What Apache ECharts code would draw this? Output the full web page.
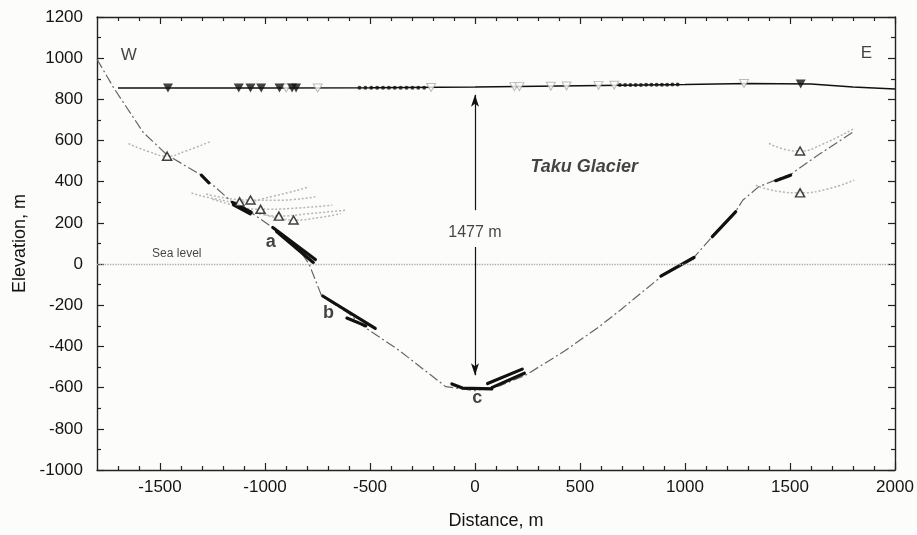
<!DOCTYPE html>
<html>
<head>
<meta charset="utf-8">
<script src="https://cdn.jsdelivr.net/npm/echarts@6/dist/echarts.min.js"></script>
<style>
  html, body { margin: 0; padding: 0; background: #fcfcfa; }
  #chart { width: 917px; height: 535px; }
</style>
</head>
<body>
<div id="chart"></div>
<script>
// tick values
const xMajor = [-1500, -1000, -500, 0, 500, 1000, 1500, 2000];
const xMinor = [-1700, -1600, -1400, -1300, -1200, -1100, -900, -800, -700, -600,
  -400, -300, -200, -100, 100, 200, 300, 400, 600, 700, 800, 900,
  1100, 1200, 1300, 1400, 1600, 1700, 1800, 1900];

// glacier surface
const surface = [[-1700, 855], [-1000, 855], [-500, 856], [0, 860], [500, 866],
  [1000, 872], [1300, 877], [1600, 875], [1800, 860], [2000, 850]];

// bed (dash-dot)
const bed = [[-1800, 995], [-1720, 855], [-1580, 640], [-1466, 530], [-1300, 430],
  [-1155, 300], [-1066, 250], [-960, 175], [-850, 90], [-790, 0], [-730, -155],
  [-600, -240], [-535, -300], [-360, -420], [-140, -595], [0, -615], [120, -590],
  [240, -540], [430, -420], [590, -305], [690, -225], [885, -62], [1045, 35],
  [1130, 133], [1240, 254], [1275, 310], [1350, 375], [1430, 408], [1510, 440],
  [1620, 520], [1805, 645]];

// thick reflector segments
const reflectors = [
  [[-1303, 432], [-1268, 395]],
  [[-1155, 300], [-1066, 252]],
  [[-1150, 288], [-1070, 244]],
  [[-963, 178], [-760, 22]],
  [[-945, 158], [-770, 8]],
  [[-725, -155], [-475, -312]],
  [[-610, -262], [-520, -300]],
  [[-110, -582], [-60, -602], [80, -606]],
  [[60, -580], [225, -510]],
  [[80, -600], [235, -530]],
  [[885, -58], [1043, 32]],
  [[1130, 133], [1241, 254]],
  [[1432, 405], [1503, 432]]
];

// dotted diffraction arcs
const arcs = [
  [[-1650, 585], [-1550, 545], [-1466, 524], [-1380, 548], [-1260, 595]],
  [[-1350, 345], [-1230, 315], [-1121, 302], [-960, 330], [-790, 375]],
  [[-1280, 340], [-1170, 318], [-1069, 311], [-940, 310], [-760, 327]],
  [[-1250, 315], [-1130, 282], [-1021, 266], [-880, 270], [-680, 286]],
  [[-1100, 265], [-934, 233], [-800, 244], [-614, 262]],
  [[-1000, 240], [-864, 214], [-740, 226], [-640, 245]],
  [[1400, 586], [1480, 556], [1548, 549], [1650, 580], [1806, 659]],
  [[1337, 383], [1450, 352], [1548, 346], [1680, 365], [1806, 408]]
];

// markers
const filledDown = [[-1462, 855], [-1125, 855], [-1069, 855], [-1018, 855],
  [-931, 855], [-871, 855], [-852, 855], [1551, 875]];
const openDown = [[-899, 855], [-749, 855], [-209, 858], [187, 862], [211, 862],
  [361, 864], [436, 865], [588, 868], [663, 869], [1281, 877]];
const dots = [[-550, 856], [-522, 856], [-494, 856], [-466, 856], [-438, 856],
  [-410, 856], [-382, 856], [-354, 856], [-326, 856], [-298, 856], [-270, 857],
  [-242, 857], [690, 870], [715, 870], [740, 870], [765, 870], [790, 870],
  [815, 871], [840, 871], [865, 871], [890, 871], [915, 871], [940, 872], [965, 872]];
const openUp = [[-1466, 524], [-1121, 302], [-1069, 311], [-1021, 266],
  [-934, 233], [-864, 214], [1548, 549], [1548, 346]];

// annotations
const arrowUp = [[0, 262], [0, 822]];
const arrowDown = [[0, 83], [0, -540]];
const notes = ['W', 'E', 'Sea level', 'Taku Glacier', '1477 m', 'a', 'b', 'c'];
const notePos = [[-1649, 1015], [1864, 1022], [-1420, 52], [520, 471], [0, 155],
  [-973, 107], [-698, -238], [11, -650]];

const txt = '#141414';
const font = 'Liberation Sans';
const bg = '#fcfcfa';

const chart = echarts.init(document.getElementById('chart'));

const noteStyles = [
  { fontSize: 17 }, { fontSize: 17 }, { fontSize: 12 },
  { fontSize: 18, fontWeight: 'bold', fontStyle: 'italic' },
  { fontSize: 16 },
  { fontSize: 18, fontWeight: 'bold' }, { fontSize: 18, fontWeight: 'bold' },
  { fontSize: 18, fontWeight: 'bold' }
];

const series = [];

series.push({
  type: 'line', data: surface, symbol: 'none', z: 3,
  lineStyle: { color: '#111', width: 1.5 },
  markLine: {
    silent: true, symbol: 'none', label: { show: false },
    lineStyle: { color: '#aaa', type: 'dotted', width: 1.3 },
    data: [{ yAxis: 0 }]
  }
});

series.push({
  type: 'line', data: bed, symbol: 'none', z: 2,
  lineStyle: { color: '#666', width: 1.2, type: [10, 3, 2, 3] }
});

arcs.forEach(a => series.push({
  type: 'line', data: a, symbol: 'none', smooth: 0.5, z: 1,
  lineStyle: { color: '#b5b5b5', width: 1.5, type: [2, 2] }
}));

reflectors.forEach(s => series.push({
  type: 'line', data: s, symbol: 'none', z: 4,
  lineStyle: { color: '#111', width: 3.2, cap: 'round' }
}));

series.push({
  type: 'scatter', data: dots, symbol: 'circle', symbolSize: 4, z: 5,
  itemStyle: { color: '#111' }
});
series.push({
  type: 'scatter', data: openDown, symbol: 'triangle', symbolRotate: 180,
  symbolSize: [9, 8], z: 5,
  itemStyle: { color: bg, borderColor: '#aaa', borderWidth: 1 }
});
series.push({
  type: 'scatter', data: filledDown, symbol: 'triangle', symbolRotate: 180,
  symbolSize: [10, 9], z: 6,
  itemStyle: { color: '#111' }
});
series.push({
  type: 'scatter', data: openUp, symbol: 'triangle', symbolSize: [9, 8], z: 6,
  itemStyle: { color: bg, borderColor: '#111', borderWidth: 1.5 }
});

// arrows
series.push({
  type: 'line', data: [], symbol: 'none',
  markLine: {
    silent: true, label: { show: false },
    symbol: ['none', 'arrow'],
    symbolSize: [6, 12],
    lineStyle: { color: '#111', width: 1.2, type: 'solid' },
    data: [
      [{ coord: arrowUp[0] }, { coord: arrowUp[1] }],
      [{ coord: arrowDown[0] }, { coord: arrowDown[1] }]
    ]
  }
});

// text annotations
series.push({
  type: 'scatter', symbolSize: 0, z: 10, silent: true,
  data: notes.map((n, i) => ({
    value: notePos[i],
    label: Object.assign({
      show: true, position: 'inside', formatter: n,
      color: txt, fontFamily: font
    }, noteStyles[i])
  }))
});

const tickCommon = { inside: true, lineStyle: { color: '#222', width: 1.2 } };
const plainNum = v => String(v);

chart.setOption({
  backgroundColor: bg,
  animation: false,
  grid: { left: 97, right: 22, top: 17, bottom: 65 },
  xAxis: [
    {
      type: 'value', position: 'bottom', min: -1800, max: 2000,
      name: 'Distance, m', nameLocation: 'middle', nameGap: 42,
      nameTextStyle: { color: txt, fontSize: 18, fontFamily: font },
      axisLine: { onZero: false, lineStyle: { color: '#222', width: 1.4 } },
      axisTick: Object.assign({ length: 7, customValues: xMajor }, tickCommon),
      axisLabel: { customValues: xMajor, formatter: plainNum, color: txt, fontSize: 17, fontFamily: font, margin: 9 },
      splitLine: { show: false }
    },
    {
      type: 'value', position: 'bottom', min: -1800, max: 2000,
      axisLine: { show: false, onZero: false },
      axisTick: Object.assign({ length: 4, customValues: xMinor }, tickCommon),
      axisLabel: { show: false }, splitLine: { show: false }
    },
    {
      type: 'value', position: 'top', min: -1800, max: 2000,
      axisLine: { onZero: false, lineStyle: { color: '#222', width: 1.4 } },
      axisTick: Object.assign({ length: 7, customValues: xMajor }, tickCommon),
      axisLabel: { show: false }, splitLine: { show: false }
    },
    {
      type: 'value', position: 'top', min: -1800, max: 2000,
      axisLine: { show: false, onZero: false },
      axisTick: Object.assign({ length: 4, customValues: xMinor }, tickCommon),
      axisLabel: { show: false }, splitLine: { show: false }
    }
  ],
  yAxis: [
    {
      type: 'value', position: 'left', min: -1000, max: 1200, interval: 200,
      name: 'Elevation, m', nameLocation: 'middle', nameGap: 68, nameRotate: 90,
      nameTextStyle: { color: txt, fontSize: 18, fontFamily: font },
      axisLine: { show: true, onZero: false, lineStyle: { color: '#222', width: 1.4 } },
      axisTick: Object.assign({ length: 7 }, tickCommon),
      minorTick: { show: true, splitNumber: 2, length: 4, lineStyle: { color: '#222', width: 1.2 } },
      axisLabel: { formatter: plainNum, color: txt, fontSize: 17, fontFamily: font, margin: 14 },
      splitLine: { show: false }
    },
    {
      type: 'value', position: 'right', min: -1000, max: 1200, interval: 200,
      axisLine: { show: true, onZero: false, lineStyle: { color: '#222', width: 1.4 } },
      axisTick: Object.assign({ length: 7 }, tickCommon),
      minorTick: { show: true, splitNumber: 2, length: 4, lineStyle: { color: '#222', width: 1.2 } },
      axisLabel: { show: false }, splitLine: { show: false }
    }
  ],
  series: series
});
</script>
</body>
</html>
